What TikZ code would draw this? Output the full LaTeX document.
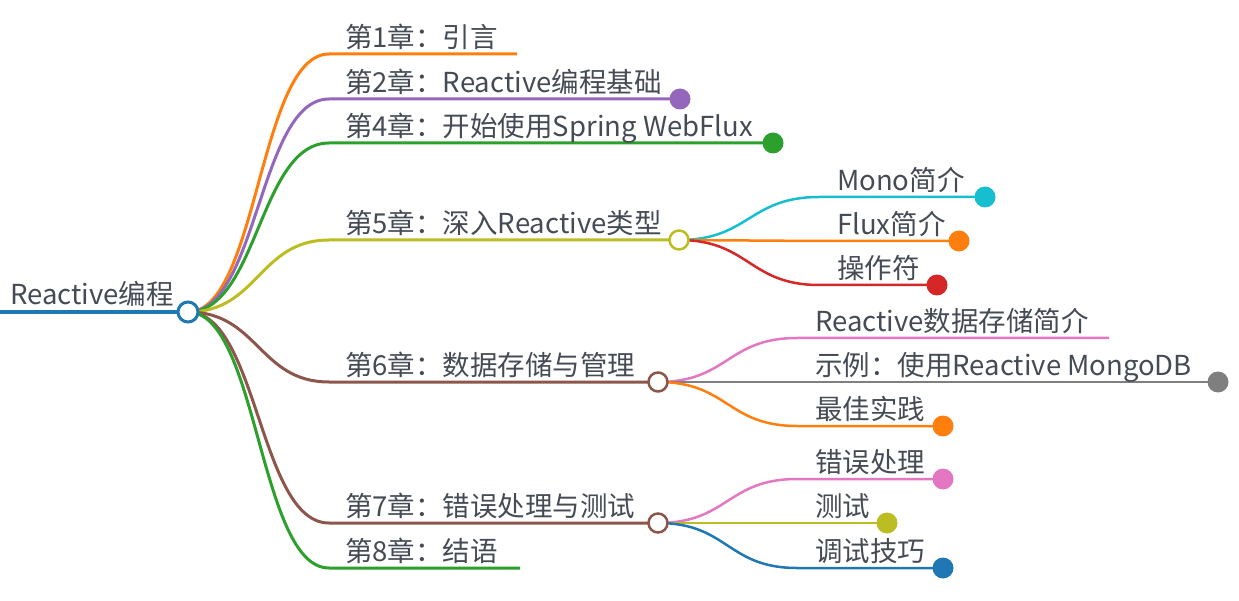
\documentclass[tikz,border=0pt]{standalone}
\usepackage{fontspec}
\setmainfont{Noto Sans CJK SC}
\usetikzlibrary{backgrounds}
\definecolor{cblue}{HTML}{1F77B4}
\definecolor{corange}{HTML}{FF7F0E}
\definecolor{cgreen}{HTML}{2CA02C}
\definecolor{cred}{HTML}{D62728}
\definecolor{cpurple}{HTML}{9467BD}
\definecolor{cbrown}{HTML}{8C564B}
\definecolor{cpink}{HTML}{E377C2}
\definecolor{cgray}{HTML}{7F7F7F}
\definecolor{colive}{HTML}{BCBD22}
\definecolor{ccyan}{HTML}{17BECF}
\definecolor{txt}{HTML}{454B54}
\begin{document}
\begin{tikzpicture}[x=1pt,y=-1pt,
  lbl/.style={anchor=base west, inner sep=0pt, font=\fontsize{27.5}{27.5}\selectfont, text=txt},
  rootlink/.style={line width=3.5pt},
  chlink/.style={line width=3pt},
  sublink/.style={line width=2.5pt},
  hollow/.style={circle, draw, fill=white, line width=2.5pt, minimum size=19pt, inner sep=0pt},
  fdot/.style={circle, minimum size=21pt, inner sep=0pt}]
\useasboundingbox (0,0) rectangle (1239,601);

% root
\coordinate (r0) at (0,312);
\node[hollow, draw=cblue, line width=3pt, minimum size=20pt] (root) at (188,312) {};
\node[lbl] (rootlbl) at (10,305) {Reactive编程};

% chapters
\coordinate (c1s) at (329,54);  \coordinate (c1e) at (517,54);
\node[lbl] (l1) at (345,47.5) {第1章：引言};
\coordinate (c2s) at (329,99);  \node[fdot, fill=cpurple] (d2) at (680,99) {};
\node[lbl] (l2) at (345,92.5) {第2章：Reactive编程基础};
\coordinate (c4s) at (329,143); \node[fdot, fill=cgreen] (d4) at (773,143) {};
\node[lbl] (l4) at (345,136.5) {第4章：开始使用Spring WebFlux};
\coordinate (c5s) at (329,240); \node[hollow, draw=colive] (n5) at (679,240) {};
\node[lbl] (l5) at (345,233.5) {第5章：深入Reactive类型};
\coordinate (c6s) at (329,382); \node[hollow, draw=cbrown] (n6) at (658,382) {};
\node[lbl] (l6) at (345,375.5) {第6章：数据存储与管理};
\coordinate (c7s) at (329,523); \node[hollow, draw=cbrown] (n7) at (658,523) {};
\node[lbl] (l7) at (345,516.5) {第7章：错误处理与测试};
\coordinate (c8s) at (329,568); \coordinate (c8e) at (520,568);
\node[lbl] (l8) at (345,561.5) {第8章：结语};

% chapter 5 children
\coordinate (s51s) at (819,197); \node[fdot, fill=ccyan] (d51) at (985,197) {};
\node[lbl] (l51) at (837,190.5) {Mono简介};
\coordinate (s52s) at (819,241); \node[fdot, fill=corange] (d52) at (959,241) {};
\node[lbl] (l52) at (837,234.5) {Flux简介};
\coordinate (s53s) at (819,285); \node[fdot, fill=cred] (d53) at (937,285) {};
\node[lbl] (l53) at (837,278.5) {操作符};

% chapter 6 children
\coordinate (s61s) at (797,338); \coordinate (s61e) at (1109,338);
\node[lbl] (l61) at (815,331.5) {Reactive数据存储简介};
\coordinate (s62s) at (797,382); \node[fdot, fill=cgray] (d62) at (1218,382) {};
\node[lbl] (l62) at (815,375.5) {示例：使用Reactive MongoDB};
\coordinate (s63s) at (797,426); \node[fdot, fill=corange] (d63) at (943,426) {};
\node[lbl] (l63) at (815,419.5) {最佳实践};

% chapter 7 children
\coordinate (s71s) at (797,479); \node[fdot, fill=cpink] (d71) at (943,479) {};
\node[lbl] (l71) at (815,472.5) {错误处理};
\coordinate (s72s) at (797,523); \node[fdot, fill=colive] (d72) at (887,523) {};
\node[lbl] (l72) at (815,516.5) {测试};
\coordinate (s73s) at (797,568); \node[fdot, fill=cblue] (d73) at (943,568) {};
\node[lbl] (l73) at (815,561.5) {调试技巧};

\begin{scope}[on background layer]
  \draw[rootlink, cblue] (r0) -- (root.center);
  % chapter links
  \draw[chlink, corange] (root.center) .. controls +(70,0) and +(-70,0) .. (c1s) -- (c1e);
  \draw[chlink, cpurple] (root.center) .. controls +(70,0) and +(-70,0) .. (c2s) -- (d2.center);
  \draw[chlink, cgreen]  (root.center) .. controls +(70,0) and +(-70,0) .. (c4s) -- (d4.center);
  \draw[chlink, colive]  (root.center) .. controls +(70,0) and +(-70,0) .. (c5s) -- (n5.center);
  \draw[chlink, cbrown]  (root.center) .. controls +(70,0) and +(-70,0) .. (c6s) -- (n6.center);
  \draw[chlink, cbrown]  (root.center) .. controls +(70,0) and +(-70,0) .. (c7s) -- (n7.center);
  \draw[chlink, cgreen]  (root.center) .. controls +(70,0) and +(-70,0) .. (c8s) -- (c8e);
  % chapter 5
  \draw[sublink, ccyan]   (n5.center) .. controls +(70,0) and +(-70,0) .. (s51s) -- (d51.center);
  \draw[sublink, corange] (n5.center) .. controls +(70,0) and +(-70,0) .. (s52s) -- (d52.center);
  \draw[sublink, cred]    (n5.center) .. controls +(70,0) and +(-70,0) .. (s53s) -- (d53.center);
  % chapter 6
  \draw[sublink, cpink]   (n6.center) .. controls +(70,0) and +(-70,0) .. (s61s) -- (s61e);
  \draw[sublink, cgray]   (n6.center) .. controls +(70,0) and +(-70,0) .. (s62s) -- (d62.center);
  \draw[sublink, corange] (n6.center) .. controls +(70,0) and +(-70,0) .. (s63s) -- (d63.center);
  % chapter 7
  \draw[sublink, cpink]   (n7.center) .. controls +(70,0) and +(-70,0) .. (s71s) -- (d71.center);
  \draw[sublink, colive]  (n7.center) .. controls +(70,0) and +(-70,0) .. (s72s) -- (d72.center);
  \draw[sublink, cblue]   (n7.center) .. controls +(70,0) and +(-70,0) .. (s73s) -- (d73.center);
\end{scope}
\end{tikzpicture}
\end{document}
